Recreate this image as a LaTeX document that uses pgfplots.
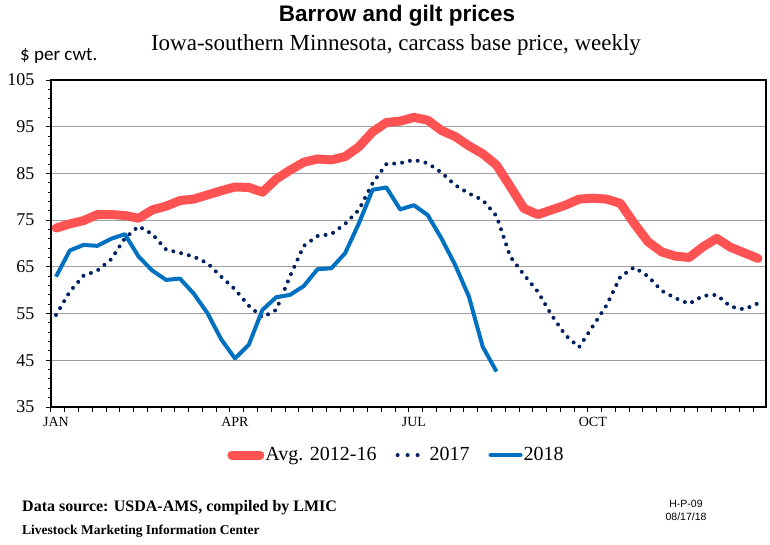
\documentclass[border=0pt]{standalone}
\usepackage{fontspec}
\setmainfont{Liberation Serif}
\newfontfamily\arial{Liberation Sans}
\newfontfamily\calibri{Carlito}
\usepackage{pgfplots}
\pgfplotsset{compat=1.18}
\definecolor{avgred}{RGB}{255,82,82}
\definecolor{blue18}{RGB}{0,112,192}
\definecolor{navy17}{RGB}{0,32,96}
\definecolor{gridgray}{RGB}{160,160,160}
\begin{document}
\begin{tikzpicture}
\path[use as bounding box] (0pt,0pt) rectangle (770pt,-544pt);
\begin{axis}[
  at={(51pt,-407pt)}, anchor=south west,
  scale only axis, width=715pt, height=327pt,
  xmin=0.636, xmax=52.58, ymin=35, ymax=105,
  axis line style={black, line width=2pt},
  tick align=outside, tick pos=left,
  tick style={black, line width=1pt},
  xtick={0.636,1.636,...,52.7},
  xticklabels={},
  major tick length=4.5pt, minor tick length=3pt,
  extra x ticks={1,14,27,40},
  extra x tick labels={JAN,APR,JUL,OCT},
  extra x tick style={major tick length=0pt, grid=none,
     tick label style={font=\fontsize{14}{16}\selectfont, anchor=north, inner sep=0pt, yshift=-10pt}},
  ytick={35,45,...,105},
  minor y tick num=4,
  ymajorgrids, grid style={gridgray, line width=1pt},
  /pgf/number format/assume math mode=true,
  yticklabel style={font=\fontsize{18}{20}\selectfont, anchor=east, inner sep=0pt, xshift=-12pt},
  legend style={at={(0.4825,-0.147)}, anchor=center, draw=none, fill=none,
     font=\fontsize{20}{22}\selectfont, legend columns=3,
     /tikz/every even column/.append style={column sep=18pt},
     nodes={inner sep=1pt}},
  legend cell align=left,
]
\addplot[avgred, line width=9pt, line join=round, line cap=round,
  legend image code/.code={\draw[avgred, line width=9pt, line cap=round] (4.5pt,0pt) -- (32.5pt,0pt);}]
  coordinates {
(1,73.3)(2,74.2)(3,74.9)(4,76.2)(5,76.2)(6,76.0)(7,75.4)(8,77.2)(9,78.0)(10,79.2)
(11,79.5)(12,80.4)(13,81.3)(14,82.1)(15,82.0)(16,81.0)(17,83.8)(18,85.7)(19,87.4)(20,88.1)
(21,87.9)(22,88.6)(23,90.7)(24,93.9)(25,95.9)(26,96.2)(27,97.0)(28,96.4)(29,94.2)(30,92.9)
(31,90.9)(32,89.2)(33,86.8)(34,82.2)(35,77.5)(36,76.2)(37,77.2)(38,78.2)(39,79.5)(40,79.7)
(41,79.5)(42,78.6)(43,74.3)(44,70.4)(45,68.2)(46,67.3)(47,67.0)(48,69.3)(49,71.1)(50,69.2)
(51,68.0)(52,66.8)};
\addlegendentry{Avg. 2012-16}
\addplot[navy17, line width=4pt, line cap=round, dash pattern=on 0pt off 8pt,
  legend image code/.code={\draw[navy17, line width=4pt, line cap=round, dash pattern=on 0pt off 10pt] (2pt,0pt) -- (23pt,0pt); \path[draw=none, fill=none] (0pt,0pt) rectangle (33pt,0.1pt);}]
  coordinates {
(1,54.7)(2,59.7)(3,63.1)(4,64.2)(5,66.6)(6,71.1)(7,73.7)(8,72.0)(9,68.7)(10,68.0)
(11,67.2)(12,65.8)(13,62.9)(14,60.2)(15,56.7)(16,54.2)(17,55.8)(18,63.0)(19,69.5)(20,71.6)
(21,72.0)(22,74.2)(23,77.2)(24,82.9)(25,87.0)(26,87.2)(27,87.9)(28,87.2)(29,85.2)(30,82.5)
(31,80.7)(32,79.3)(33,75.9)(34,67.2)(35,63.3)(36,59.7)(37,54.7)(38,50.4)(39,47.8)(40,52.3)
(41,56.8)(42,62.9)(43,64.9)(44,63.0)(45,59.9)(46,58.3)(47,57.1)(48,58.8)(49,59.0)(50,56.5)
(51,55.9)(52,57.2)};
\addlegendentry{2017}
\addplot[blue18, line width=4pt, line join=round,
  legend image code/.code={\draw[blue18, line width=4pt, line cap=round] (2pt,0pt) -- (32pt,0pt);}]
  coordinates {
(1,62.9)(2,68.5)(3,69.7)(4,69.5)(5,71.0)(6,72.0)(7,67.2)(8,64.2)(9,62.2)(10,62.5)
(11,59.3)(12,55.1)(13,49.5)(14,45.4)(15,48.3)(16,55.8)(17,58.5)(18,59.0)(19,60.9)(20,64.5)
(21,64.7)(22,67.9)(23,74.3)(24,81.5)(25,82.0)(26,77.3)(27,78.2)(28,76.1)(29,71.1)(30,65.4)
(31,58.6)(32,47.9)(33,42.6)};
\addlegendentry{2018}
\end{axis}
\node[anchor=base] at (397pt,-21pt) {\arial\bfseries\fontsize{22.5}{26}\selectfont Barrow and gilt prices};
\node[anchor=base] at (396pt,-50pt) {\fontsize{23}{26}\selectfont Iowa-southern Minnesota, carcass base price, weekly};
\node[anchor=base west, inner sep=0pt] at (20pt,-60pt) {\calibri\fontsize{19}{22}\selectfont \$ per cwt.};
\node[anchor=base west, inner sep=0pt] at (22pt,-511pt) {\bfseries\fontsize{16}{18}\selectfont Data source: USDA-AMS, compiled by LMIC};
\node[anchor=base west, inner sep=0pt] at (22pt,-534pt) {\bfseries\fontsize{13.5}{16}\selectfont Livestock Marketing Information Center};
\node[anchor=base, inner sep=0pt] at (686pt,-507pt) {\arial\fontsize{10.5}{12}\selectfont H-P-09};
\node[anchor=base, inner sep=0pt] at (686pt,-520pt) {\arial\fontsize{10.5}{12}\selectfont 08/17/18};
\end{tikzpicture}
\end{document}
